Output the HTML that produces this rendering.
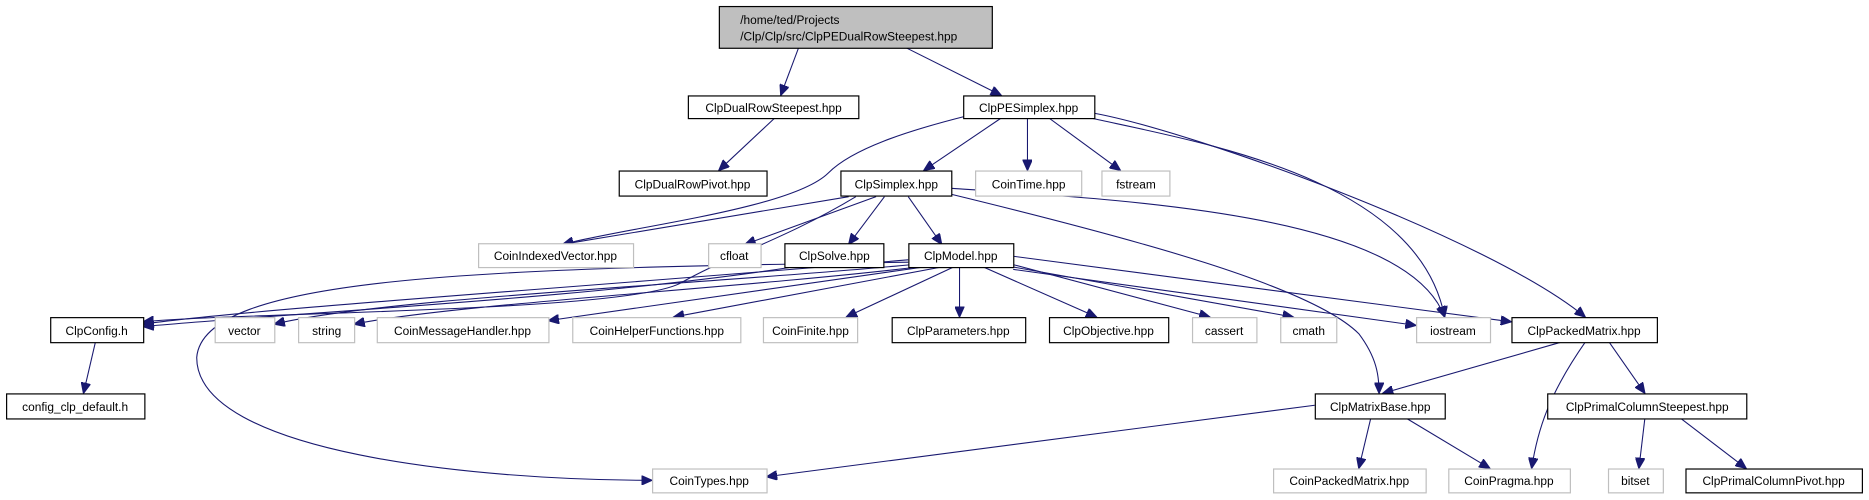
<!DOCTYPE html>
<html><head><meta charset="utf-8"><style>
html,body{margin:0;padding:0;background:#fff;width:1869px;height:500px;overflow:hidden}
text{font-family:"Liberation Sans",sans-serif;font-size:10px;fill:#000}
.b{fill:#fff;stroke:#000;stroke-width:1}
.g{fill:#fff;stroke:#bfbfbf;stroke-width:1}
.e{fill:none;stroke:#191970;stroke-width:0.9}
</style></head><body>
<svg width="1869" height="500" viewBox="0 0 1568 419.5" xmlns="http://www.w3.org/2000/svg">
<defs><marker id="a" markerUnits="userSpaceOnUse" markerWidth="10" markerHeight="8" refX="9" refY="4" orient="auto"><path d="M0,0 L9,4 L0,8 z" fill="#191970" stroke="#191970"/></marker></defs>
<g marker-end="url(#a)">
<path class="e" d="M670,40 L655,80"/>
<path class="e" d="M760,40 L840,80"/>
<path class="e" d="M650,99 L603,143"/>
<path class="e" d="M840,99 L775,143"/>
<path class="e" d="M862,99 L862,143"/>
<path class="e" d="M880,99 L940,143"/>
<path class="e" d="M812,97 C760,110 715,125 695,145 C665,175 530,190 472,205"/>
<path class="e" d="M915,99 C1010,120 1190,150 1212,266"/>
<path class="e" d="M918,95 C1000,110 1250,200 1330,266"/>
<path class="e" d="M712,165 L472,205"/>
<path class="e" d="M718,165 C660,200 610,215 570,238 C520,262 200,262 120,270"/>
<path class="e" d="M735,165 L625,205"/>
<path class="e" d="M742,165 L712,205"/>
<path class="e" d="M762,165 L790,205"/>
<path class="e" d="M798,158 C950,168 1180,180 1212,266"/>
<path class="e" d="M798,163 C950,200 1100,240 1140,280 C1155,300 1157,315 1157,330"/>
<path class="e" d="M665,224 C500,250 250,262 120,274"/>
<path class="e" d="M762,220 C400,225 170,232 165,300 C165,380 400,403 547,403"/>
<path class="e" d="M762,218 C500,240 200,260 120,272"/>
<path class="e" d="M765,222 C600,238 320,250 230,272"/>
<path class="e" d="M770,224 C620,242 380,255 297,272"/>
<path class="e" d="M775,224 L460,269"/>
<path class="e" d="M790,224 L565,266"/>
<path class="e" d="M800,224 L710,266"/>
<path class="e" d="M805,224 L805,266"/>
<path class="e" d="M825,224 L920,266"/>
<path class="e" d="M850,222 L1015,266"/>
<path class="e" d="M850,224 L1085,266"/>
<path class="e" d="M850,226 L1188,273"/>
<path class="e" d="M850,215 L1268,270"/>
<path class="e" d="M80,287 L70,330"/>
<path class="e" d="M1310,287 L1160,330"/>
<path class="e" d="M1330,287 C1300,330 1290,360 1285,393"/>
<path class="e" d="M1350,287 L1380,330"/>
<path class="e" d="M1103,340 L643,400"/>
<path class="e" d="M1150,351 L1140,393"/>
<path class="e" d="M1180,351 L1250,393"/>
<path class="e" d="M1380,351 L1375,393"/>
<path class="e" d="M1410,351 L1465,393"/>
</g>
<rect x="603.5" y="5.5" width="229" height="35" fill="#bfbfbf" stroke="#000"/>
<text x="621" y="20">/home/ted/Projects</text><text x="621" y="34">/Clp/Clp/src/ClpPEDualRowSteepest.hpp</text>
<g text-anchor="middle">
<rect class="b" x="577.5" y="80.5" width="143" height="19"/><text x="649" y="94">ClpDualRowSteepest.hpp</text>
<rect class="b" x="808.5" y="80.5" width="110" height="19"/><text x="863" y="94">ClpPESimplex.hpp</text>
<rect class="b" x="519.5" y="143.5" width="124" height="21"/><text x="581" y="158">ClpDualRowPivot.hpp</text>
<rect class="b" x="705.5" y="143.5" width="93" height="21"/><text x="752" y="158">ClpSimplex.hpp</text>
<rect class="g" x="818.5" y="143.5" width="89" height="21"/><text x="863" y="158">CoinTime.hpp</text>
<rect class="g" x="924.5" y="143.5" width="57" height="21"/><text x="953" y="158">fstream</text>
<rect class="g" x="401.5" y="204.5" width="130" height="20"/><text x="466" y="218">CoinIndexedVector.hpp</text>
<rect class="g" x="594.5" y="204.5" width="44" height="20"/><text x="616" y="218">cfloat</text>
<rect class="b" x="658.5" y="204.5" width="83" height="20"/><text x="700" y="218">ClpSolve.hpp</text>
<rect class="b" x="762.5" y="204.5" width="88" height="20"/><text x="806" y="218">ClpModel.hpp</text>
<rect class="b" x="42.5" y="266.5" width="78" height="21"/><text x="81" y="281">ClpConfig.h</text>
<rect class="g" x="180.5" y="266.5" width="50" height="21"/><text x="205" y="281">vector</text>
<rect class="g" x="250.5" y="266.5" width="47" height="21"/><text x="274" y="281">string</text>
<rect class="g" x="316.5" y="266.5" width="144" height="21"/><text x="388" y="281">CoinMessageHandler.hpp</text>
<rect class="g" x="480.5" y="266.5" width="141" height="21"/><text x="551" y="281">CoinHelperFunctions.hpp</text>
<rect class="g" x="640.5" y="266.5" width="79" height="21"/><text x="680" y="281">CoinFinite.hpp</text>
<rect class="b" x="748.5" y="266.5" width="112" height="21"/><text x="804" y="281">ClpParameters.hpp</text>
<rect class="b" x="880.5" y="266.5" width="100" height="21"/><text x="930" y="281">ClpObjective.hpp</text>
<rect class="g" x="1000.5" y="266.5" width="54" height="21"/><text x="1027" y="281">cassert</text>
<rect class="g" x="1074.5" y="266.5" width="47" height="21"/><text x="1098" y="281">cmath</text>
<rect class="g" x="1188.5" y="266.5" width="62" height="21"/><text x="1219" y="281">iostream</text>
<rect class="b" x="1268.5" y="266.5" width="122" height="21"/><text x="1329" y="281">ClpPackedMatrix.hpp</text>
<rect class="b" x="5.5" y="330.5" width="116" height="21"/><text x="63" y="345">config_clp_default.h</text>
<rect class="b" x="1103.5" y="330.5" width="109" height="21"/><text x="1158" y="345">ClpMatrixBase.hpp</text>
<rect class="b" x="1298.5" y="330.5" width="167" height="21"/><text x="1382" y="345">ClpPrimalColumnSteepest.hpp</text>
<rect class="g" x="547.5" y="393.5" width="96" height="20"/><text x="595" y="407">CoinTypes.hpp</text>
<rect class="g" x="1068.5" y="393.5" width="128" height="20"/><text x="1132" y="407">CoinPackedMatrix.hpp</text>
<rect class="g" x="1215.5" y="393.5" width="102" height="20"/><text x="1266" y="407">CoinPragma.hpp</text>
<rect class="g" x="1349.5" y="393.5" width="46" height="20"/><text x="1372" y="407">bitset</text>
<rect class="b" x="1414.5" y="393.5" width="148" height="20"/><text x="1488" y="407">ClpPrimalColumnPivot.hpp</text>
</g>
</svg>
</body></html>
